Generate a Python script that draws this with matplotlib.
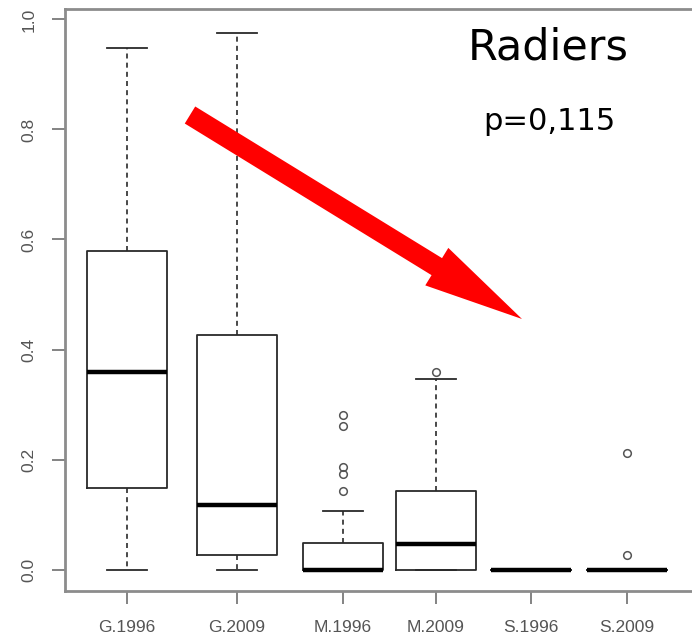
import matplotlib
matplotlib.use("Agg")
import matplotlib.pyplot as plt
from matplotlib.patches import FancyArrow
from matplotlib.transforms import IdentityTransform

groups = ["G.1996", "G.2009", "M.1996", "M.2009", "S.1996", "S.2009"]
whislo = [0.0, 0.0, 0.0, 0.0, 0.0, 0.0]
q1 = [0.149, 0.027, 0.0, 0.0, 0.0, 0.0]
med = [0.359, 0.118, 0.0, 0.047, 0.0, 0.0]
q3 = [0.579, 0.426, 0.049, 0.143, 0.0, 0.0]
whishi = [0.949, 0.976, 0.107, 0.347, 0.0, 0.0]
fliers = [[], [], [0.281, 0.261, 0.187, 0.174, 0.142], [0.359], [], [0.212, 0.027]]
yticks = [0.0, 0.2, 0.4, 0.6, 0.8, 1.0]
title = "Radiers"
pval = "p=0,115"

# layout (box centres as they appear in the reference)
box_pos = [1.0, 2.1, 3.16, 4.09, 5.04, 6.0]

W, H = 692, 639
fig = plt.figure(figsize=(W / 100, H / 100), dpi=100)
ax = fig.add_axes([65 / W, (H - 591) / H, (705 - 65) / W, (591 - 9) / H])

stats = []
for i, g in enumerate(groups):
    stats.append(dict(label=g, whislo=whislo[i], q1=q1[i], med=med[i],
                      q3=q3[i], whishi=whishi[i], fliers=fliers[i]))

edge = "#2a2a2a"
ax.bxp(stats, positions=box_pos, widths=0.8, showfliers=True,
       boxprops=dict(color=edge, linewidth=1.3),
       whiskerprops=dict(color=edge, linewidth=1.2, linestyle=(0, (3, 2.5))),
       capprops=dict(color=edge, linewidth=1.3),
       medianprops=dict(color="black", linewidth=3.2, solid_capstyle="butt"),
       flierprops=dict(marker="o", markersize=5.5, markerfacecolor="none",
                       markeredgecolor="#555555", markeredgewidth=1.1))

ax.set_xlim(0.38, 6.78)
ax.set_ylim(-0.039, 1.019)

ax.set_yticks(yticks)
ax.set_yticklabels([f"{v:.1f}" for v in yticks], rotation=90, va="center",
                   family="Liberation Sans", fontsize=12.5, color="#555555")
ax.set_xticks(box_pos)
ax.set_xticklabels(groups, family="Liberation Sans", fontsize=12.5, color="#555555")
ax.tick_params(axis="y", length=9.5, width=1.3, color="#7a7a7a", pad=11)
ax.tick_params(axis="x", length=9, width=1.3, color="#7a7a7a", pad=12)

for s in ["left", "bottom", "top"]:
    ax.spines[s].set_color("#8c8c8c")
    ax.spines[s].set_linewidth(2)
ax.spines["right"].set_visible(False)

fig.text(548 / W, 1 - 47 / H, title, ha="center", va="center",
         fontsize=31, color="black")
fig.text(549 / W, 1 - 122 / H, pval, ha="center", va="center",
         fontsize=22, color="black")

arrow = FancyArrow(190, H - 115, 332, -204, width=20, head_width=44,
                   head_length=100, length_includes_head=True,
                   transform=IdentityTransform(), color="#ff0000", lw=0)
fig.add_artist(arrow)

fig.savefig("out.png", dpi=100)
